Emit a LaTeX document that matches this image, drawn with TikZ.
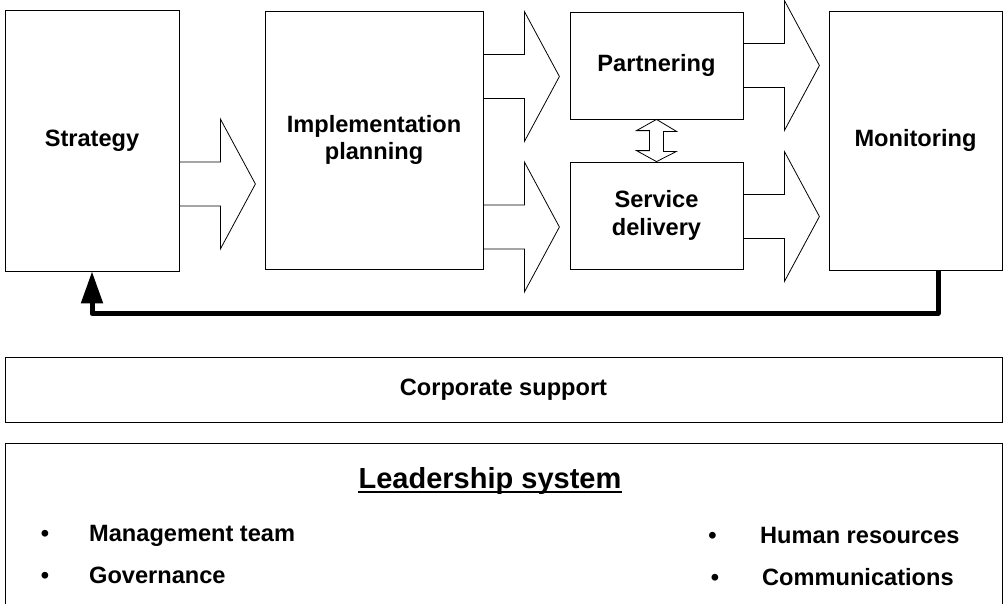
\documentclass[tikz,border=0pt]{standalone}
\usepackage{fontspec}
\setmainfont{Liberation Sans}
\usepackage{tikz}
\usetikzlibrary{arrows.meta}

\begin{document}
\begin{tikzpicture}[x=1pt,y=-1pt,
    >={Triangle[width=21pt,length=32pt]},
    box/.style={draw,line width=0.8pt,inner sep=0pt,align=center,font=\bfseries\fontsize{23.6}{27.5}\selectfont},
    fatarrow/.style={draw,line width=0.8pt},
    feedback/.style={line width=5pt,line join=round},
    txt/.style={inner sep=0pt,font=\bfseries\fontsize{23.6}{27.5}\selectfont}]
\useasboundingbox (0,0) rectangle (1004,603);
\clip (0,0) rectangle (1004,603);

\node[box,minimum width=174,minimum height=261] (strat) at (92,140.5) {Strategy};
\node[box,minimum width=218,minimum height=258] (impl) at (374,140) {Implementation\\planning};
\node[box,minimum width=173,minimum height=107] (part) at (656.5,65.5) {Partnering};
\node[box,minimum width=173,minimum height=107] (serv) at (656.5,215.5) {Service\\delivery};
\node[box,minimum width=173,minimum height=259] (mon) at (915.5,140.5) {Monitoring};

\foreach \n/\y in {strat/184,impl/76.5,impl/227,part/65.5,serv/216.5}
    \draw[fatarrow] (\n.east |- 0,\y) ++(0,-22) -- ++(41,0) -- ++(0,-43) -- ++(35,65)
        -- ++(-35,65) -- ++(0,-43) -- ++(-41,0);

\draw[fatarrow] (part.south) -- ++(20,12) -- ++(-13,0) -- ++(0,20) -- ++(13,0) -- (serv.north)
    -- ++(-20,-11) -- ++(13,0) -- ++(0,-20) -- ++(-13,0) -- cycle;

\draw[feedback,->] (mon.south -| 938,0) -- ++(0,43) -| (strat.south);

\node[box,minimum width=997,minimum height=65] (corp) at (503.5,389.5) {Corporate support};
\node[box,minimum width=997,minimum height=200,anchor=north] (lead) at (503.5,443) {};

\node[txt,font=\bfseries\fontsize{29}{34}\selectfont,anchor=base] (title) at (490,488) {Leadership system};
\draw[line width=2pt] ([yshift=-4pt]title.base west) -- ([yshift=-4pt]title.base east);

\node[txt,anchor=base] (b1) at (45,541) {•};
\node[txt,anchor=base west] (mgmt) at (89,541) {Management team};
\node[txt,anchor=base] (b2) at (45,583) {•};
\node[txt,anchor=base west] (gov) at (89,583) {Governance};
\node[txt,anchor=base] (b3) at (712.5,543) {•};
\node[txt,anchor=base west] (hr) at (760,543) {Human resources};
\node[txt,anchor=base] (b4) at (715,585) {•};
\node[txt,anchor=base west] (comm) at (762,585) {Communications};
\end{tikzpicture}
\end{document}
